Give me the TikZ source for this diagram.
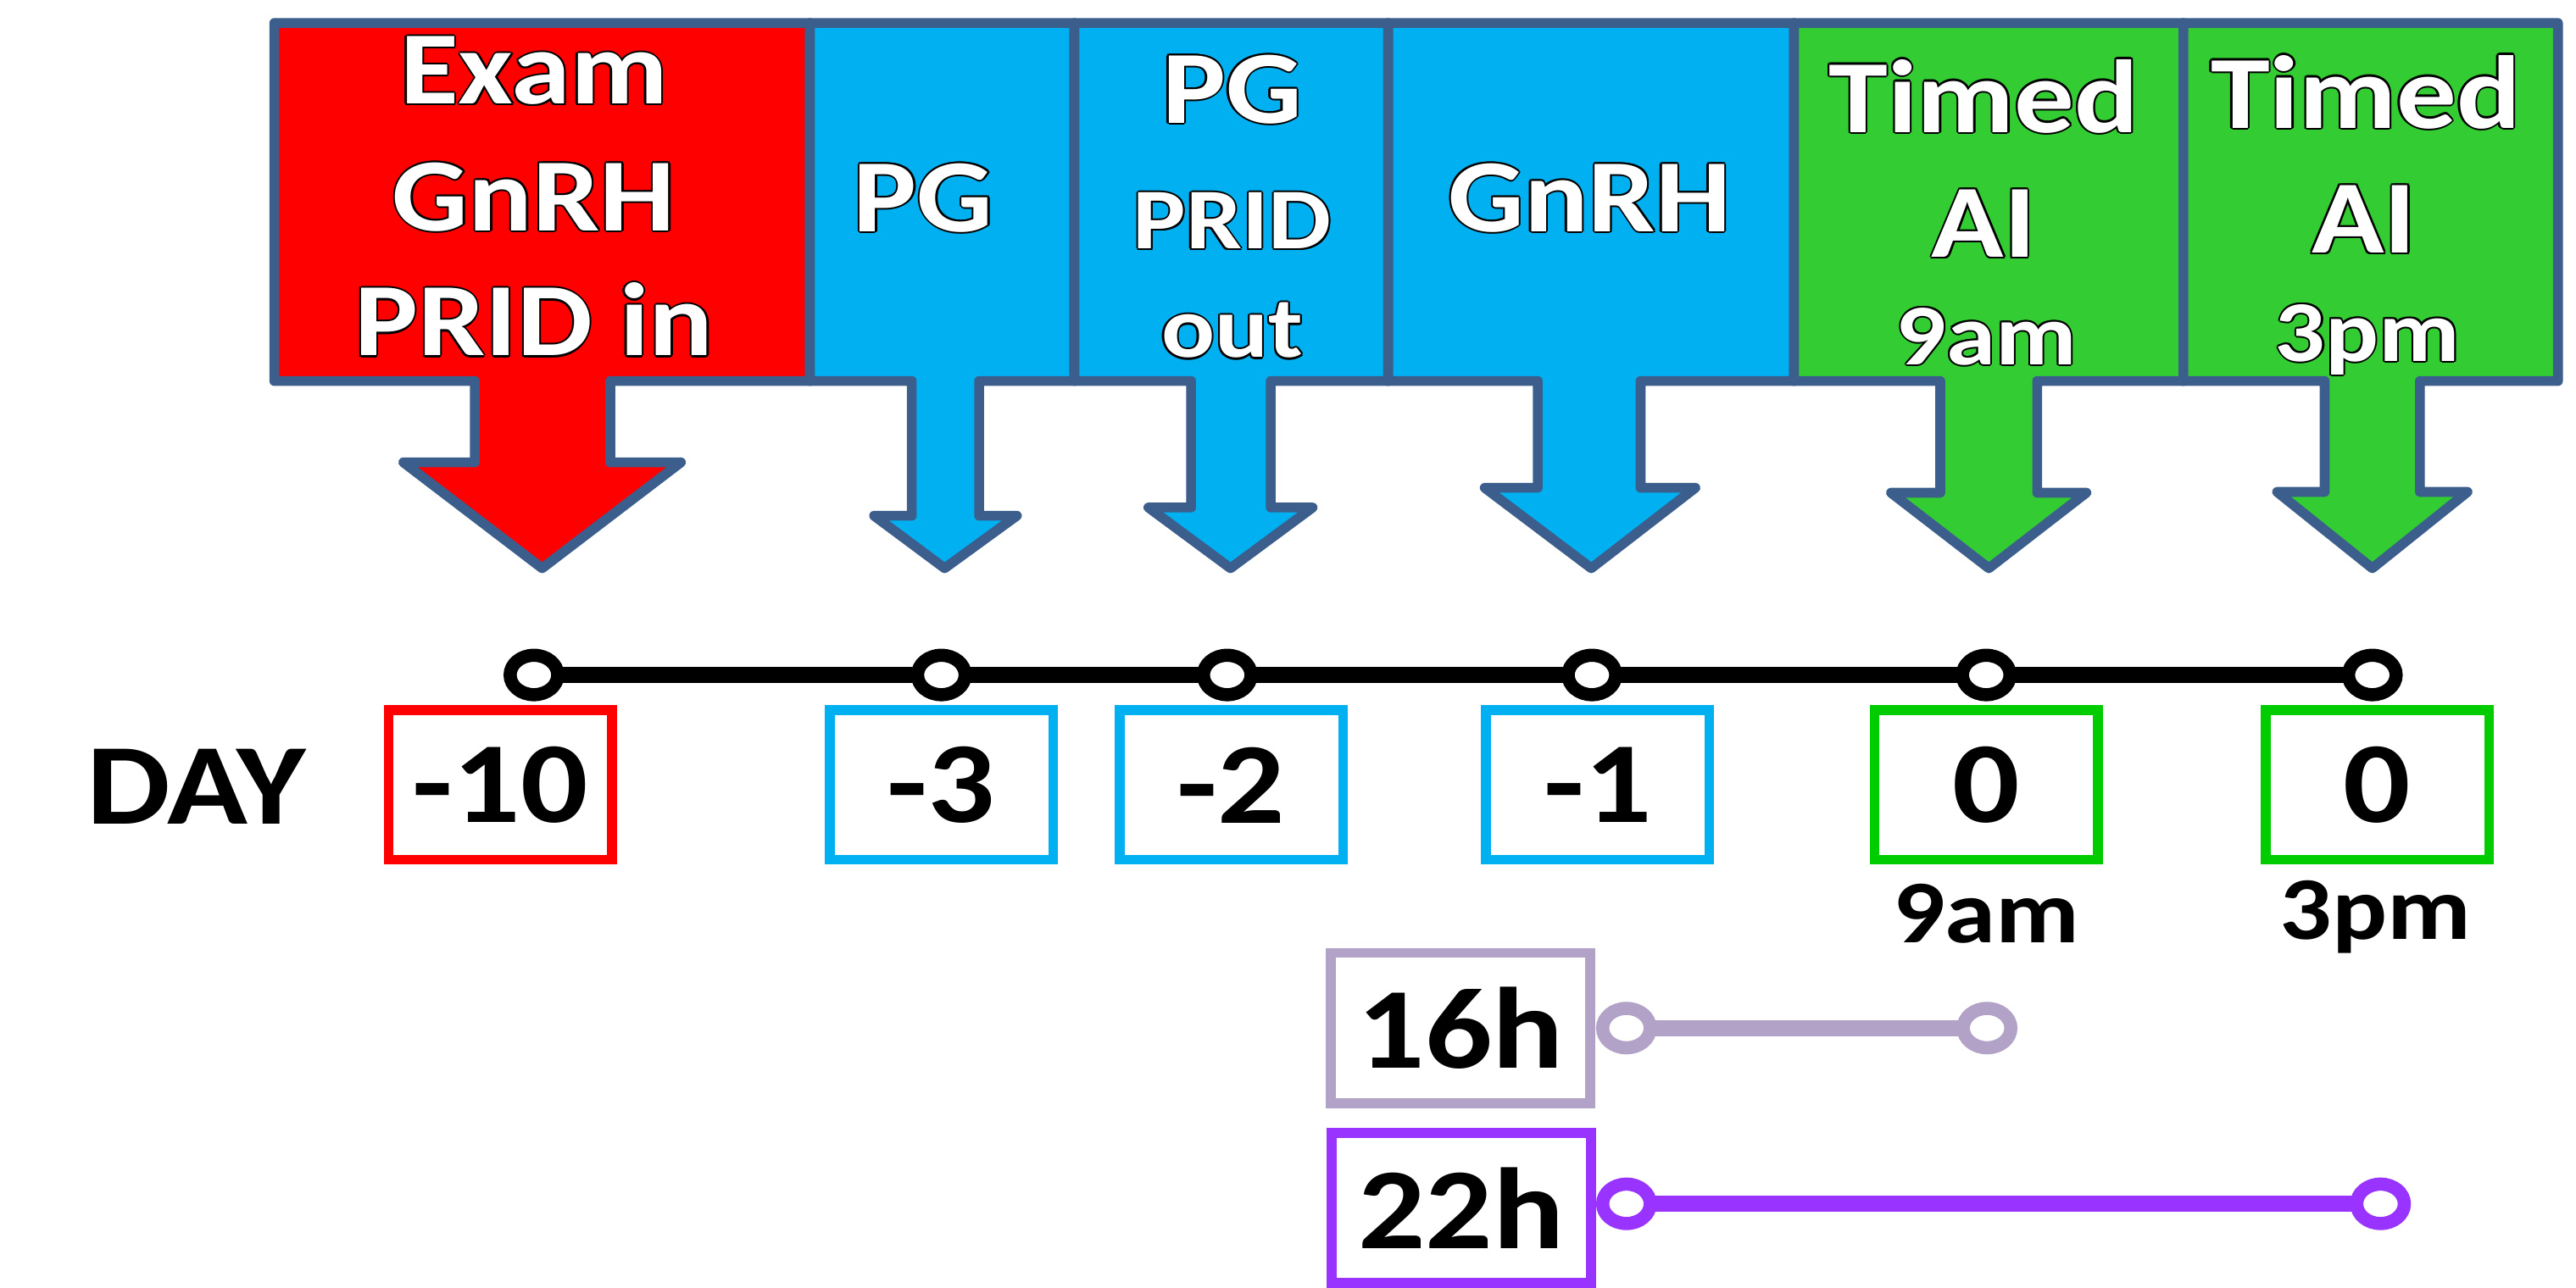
\documentclass[tikz,border=0pt]{standalone}
\usepackage{fontspec}
\setmainfont{Carlito}[FakeStretch=1.15]
\usetikzlibrary{shapes.geometric,backgrounds}
\definecolor{bord}{RGB}{59,94,140}
\definecolor{cred}{RGB}{255,0,0}
\definecolor{cblue}{RGB}{0,176,240}
\definecolor{cgreen}{RGB}{51,204,51}
\definecolor{bgreen}{RGB}{0,204,0}
\definecolor{lav}{RGB}{179,162,199}
\definecolor{purp}{RGB}{153,51,255}
\newcommand\olcopy[3]{\rlap{\kern#1\raisebox{#2}{\color{black}#3}}}
\newcommand\otext[1]{\olcopy{0.65pt}{0pt}{#1}\olcopy{-0.65pt}{0pt}{#1}\olcopy{0pt}{0.65pt}{#1}\olcopy{0pt}{-0.65pt}{#1}\olcopy{0.46pt}{0.46pt}{#1}\olcopy{-0.46pt}{0.46pt}{#1}\olcopy{0.46pt}{-0.46pt}{#1}\olcopy{-0.46pt}{-0.46pt}{#1}{\color{white}#1}}
\tikzset{
  banner/.style={draw=bord, line width=1.2mm, line join=round},
  bigt/.style={anchor=base, inner sep=0pt, font=\fontsize{36}{40}\selectfont\bfseries},
  smallt/.style={anchor=base, inner sep=0pt, font=\fontsize{30}{34}\selectfont\bfseries},
  numt/.style={font=\fontsize{40}{44}\selectfont\bfseries},
  daybox/.style={draw=#1, line width=1.2mm, rectangle, minimum width=27.2mm, minimum height=18.2mm, inner sep=0pt, numt},
  hbox/.style={draw=#1, line width=1.2mm, rectangle, minimum width=31.6mm, minimum height=18.3mm, inner sep=0pt, numt},
  tcirc/.style={ellipse, draw=#1, fill=white, line width=1.6mm, minimum width=5.8mm, minimum height=4.8mm, inner sep=0pt, outer sep=0pt},
  tline/.style={draw=#1, line width=2mm},
  lowt/.style={anchor=base, inner sep=0pt, font=\fontsize{31}{34}\selectfont\bfseries}
}
\begin{document}
\begin{tikzpicture}[x=0.2mm, y=-0.2mm]
\useasboundingbox (0,0) rectangle (1568,784.26);
% banner columns with down arrows
\filldraw[banner, fill=cred] (167,14) -- (493,14) -- (493,232) -- (371.5,232) -- (371.5,281.5) -- (414.5,281.5) -- (330,346) -- (245.5,281.5) -- (289,281.5) -- (289,232) -- (167,232) -- cycle;
\filldraw[banner, fill=cblue] (493,14) -- (654,14) -- (654,232) -- (596,232) -- (596,314) -- (619,314) -- (575,346) -- (532,314) -- (555,314) -- (555,232) -- (493,232) -- cycle;
\filldraw[banner, fill=cblue] (654,14) -- (845,14) -- (845,232) -- (773.5,232) -- (773.5,309) -- (799,309) -- (749,346) -- (699,309) -- (725,309) -- (725,232) -- (654,232) -- cycle;
\filldraw[banner, fill=cblue] (845,14) -- (1092,14) -- (1092,232) -- (998.6,232) -- (998.6,297) -- (1032,297) -- (968.6,346) -- (903.7,297) -- (936,297) -- (936,232) -- (845,232) -- cycle;
\filldraw[banner, fill=cgreen] (1092,14) -- (1329,14) -- (1329,232) -- (1240,232) -- (1240,300) -- (1270,300) -- (1210.6,346) -- (1151,300) -- (1181,300) -- (1181,232) -- (1092,232) -- cycle;
\filldraw[banner, fill=cgreen] (1329,14) -- (1557,14) -- (1557,232) -- (1473,232) -- (1473,299.5) -- (1502,299.5) -- (1444,346) -- (1386,299.5) -- (1415,299.5) -- (1415,232) -- (1329,232) -- cycle;
% banner texts
\node[bigt] (c1a) at (325,63.3) {\otext{Exam}};
\node[bigt] (c1b) at (325,140.5) {\otext{GnRH}};
\node[bigt] (c1c) at (325,216.6) {\otext{PRID in}};
\node[bigt] (c2a) at (562,141) {\otext{PG}};
\node[bigt] (c3a) at (750,75) {\otext{PG}};
\node[smallt] (c3b) at (750,151.5) {\otext{PRID}};
\node[smallt] (c3c) at (750,217.7) {\otext{out}};
\node[bigt] (c4a) at (967.5,141) {\otext{GnRH}};
\node[bigt] (c5a) at (1207.5,80.6) {\otext{Timed}};
\node[bigt] (c5b) at (1207.5,156.6) {\otext{AI}};
\node[smallt] (c5c) at (1209,222) {\otext{9am}};
\node[bigt] (c6a) at (1440,78) {\otext{Timed}};
\node[bigt] (c6b) at (1439,154) {\otext{AI}};
\node[smallt] (c6c) at (1441,220) {\otext{3pm}};
% timeline
\node[tcirc=black] (t1) at (325,411) {};
\node[tcirc=black] (t2) at (573,411) {};
\node[tcirc=black] (t3) at (747,411) {};
\node[tcirc=black] (t4) at (969,411) {};
\node[tcirc=black] (t5) at (1209,411) {};
\node[tcirc=black] (t6) at (1444,411) {};
\begin{scope}[on background layer]
\draw[tline=black] (t1.center) -- (t6.center);
\end{scope}
% day label and boxes
\node[anchor=base, inner sep=0pt, numt] (day) at (119.5,502) {DAY};
\node[daybox=cred] (d1) at (304.5,478) {-10};
\node[daybox=cblue] (d2) at (573,478) {-3};
\node[daybox=cblue] (d3) at (749.5,478) {-2};
\node[daybox=cblue] (d4) at (972.5,478) {-1};
\node[daybox=bgreen] (d5) at (1209,478) {0};
\node[daybox=bgreen] (d6) at (1447,478) {0};
\node[lowt] (l9) at (1209,574) {9am};
\node[lowt] (l3) at (1446,572) {3pm};
% duration bars
\node[hbox=lav] (h16) at (889,626) {16h};
\node[hbox=purp] (h22) at (889.5,735.5) {22h};
\node[tcirc=lav] (a1) at (990,626) {};
\node[tcirc=lav] (a2) at (1209.5,626) {};
\node[tcirc=purp] (b1) at (990,733) {};
\node[tcirc=purp] (b2) at (1449,733) {};
\begin{scope}[on background layer]
\draw[tline=lav] (a1.center) -- (a2.center);
\draw[tline=purp] (b1.center) -- (b2.center);
\end{scope}
\end{tikzpicture}
\end{document}
